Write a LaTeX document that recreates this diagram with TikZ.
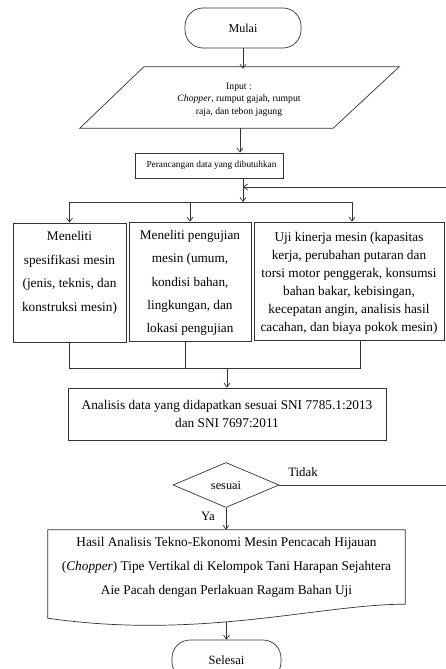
\documentclass[tikz,border=0pt]{standalone}
\usepackage{fontspec}
\setmainfont{Liberation Serif}
\usetikzlibrary{arrows.meta,shapes.geometric}
\begin{document}
\begin{tikzpicture}[x=1pt,y=-1pt,
  line/.style={draw=black!80, line width=0.7pt},
  arr/.style={draw=black!80, line width=0.7pt, -{Straight Barb[length=4pt,width=6pt]}},
  term/.style={line, rectangle, rounded corners=18pt, minimum height=40pt, inner sep=0pt},
  box/.style={line, rectangle, inner sep=0pt},
  txt/.style={align=center, inner sep=0pt},
  lbl/.style={inner sep=0pt, font=\fontsize{12.8}{14}\selectfont},
]
\useasboundingbox (0,0) rectangle (446,669);

% terminal start
\node[term, minimum width=116pt, font=\fontsize{12.1}{14}\selectfont] (start) at (243,28) {Mulai};

% input parallelogram
\node[txt, minimum width=254pt, minimum height=61pt, font=\fontsize{9.7}{12.5}\selectfont] (in) at (239,99.5)
  {Input :\\\textit{Chopper}, rumput gajah, rumput\\raja, dan tebon jagung};
\draw[line] ([xshift=32pt,yshift=2pt]in.north west) -- ([xshift=33pt,yshift=2pt]in.north east)
  -- ([xshift=-33pt,yshift=2pt]in.south east) -- ([xshift=-32pt,yshift=2pt]in.south west) -- cycle;
\coordinate (inb) at (240,128);

% design box
\node[box, minimum width=148pt, minimum height=25pt, font=\fontsize{9.3}{12}\selectfont] (per) at (209,165.5)
  {\hspace*{5pt}Perancangan data yang dibutuhkan};

\coordinate (j1) at (243,202);
\coordinate (fb) at (243,187);

% three boxes
\node[box, minimum width=113pt, minimum height=119pt] (b1) at (69.5,282.5) {};
\node[box, minimum width=122pt, minimum height=119pt] (b2) at (190,281.5) {};
\node[box, minimum width=190pt, minimum height=118pt] (b3) at (349,281) {};
\node[txt, font=\fontsize{13.3}{23.5}\selectfont] (t1) at (69.5,273)
  {Meneliti\\spesifikasi mesin\\(jenis, teknis, dan\\konstruksi mesin)};
\node[txt, font=\fontsize{13.2}{23.3}\selectfont] (t2) at (190,283)
  {Meneliti pengujian\\mesin (umum,\\kondisi bahan,\\lingkungan, dan\\lokasi pengujian};
\node[txt, font=\fontsize{13.3}{18}\selectfont] (t3) at (349,283)
  {Uji kinerja mesin (kapasitas\\kerja, perubahan putaran dan\\torsi motor penggerak, konsumsi\\bahan bakar, kebisingan,\\kecepatan angin, analisis hasil\\cacahan, dan biaya pokok mesin)};

\coordinate (j2) at (227,368);

% analysis box
\node[box, minimum width=318pt, minimum height=52pt, align=center, font=\fontsize{13.3}{18}\selectfont] (an) at (227,414)
  {Analisis data yang didapatkan sesuai SNI 7785.1:2013\\dan SNI 7697:2011};

% decision
\node[line, diamond, minimum width=106pt, minimum height=45pt, inner sep=0pt, font=\fontsize{12.3}{14}\selectfont] (dec) at (226,485) {sesuai};
\node[lbl] (tidak) at (303,472) {Tidak};
\node[lbl] (ya) at (208,516) {Ya};
\coordinate (rx) at (449,487);

% document
\node[txt, minimum width=357pt, minimum height=74pt, font=\fontsize{13.3}{24}\selectfont] (doc) at (226.5,567)
  {Hasil Analisis Tekno-Ekonomi Mesin Pencacah Hijauan\\(\textit{Chopper}) Tipe Vertikal di Kelompok Tani Harapan Sejahtera\\Aie Pacah dengan Perlakuan Ragam Bahan Uji};
\draw[line] (doc.north west) -- (doc.north east) -- (doc.south east)
  .. controls ([xshift=-85pt]doc.south east) and ([xshift=152pt,yshift=-36pt]doc.south west)
  .. ([yshift=-14pt]doc.south west) -- cycle;
\coordinate (docb) at (226.5,621.5);

% end terminal
\node[term, minimum width=109pt, font=\fontsize{12.6}{14}\selectfont] (end) at (226.5,660) {Selesai};

% connectors
\draw[arr] (start.south) -- (start.south |- in.north);
\draw[arr] (inb) -- (inb |- per.north);
\draw[arr] (per.south -| j1) -- (j1);
\draw[line] (b1.north |- j1) -- ([xshift=3pt]b3.north |- j1);
\draw[arr] (b1.north |- j1) -- (b1.north);
\draw[arr] (b2.north |- j1) -- (b2.north);
\draw[arr] ([xshift=3pt]b3.north |- j1) -- ([xshift=3pt]b3.north);
\draw[line] (b1.south) -- (b1.south |- j2) -- ([xshift=11pt]b3.south |- j2) -- ([xshift=11pt]b3.south);
\draw[line] ([xshift=-5pt]b2.south) -- ([xshift=-5pt]b2.south |- j2);
\draw[arr] (j2) -- (j2 |- an.north);
\draw[arr] (dec.south) -- (dec.south |- doc.north);
\draw[arr] (dec.east) -- (dec.east -| rx) |- (fb);
\draw[arr] (docb) -- (end.north);
\end{tikzpicture}
\end{document}
